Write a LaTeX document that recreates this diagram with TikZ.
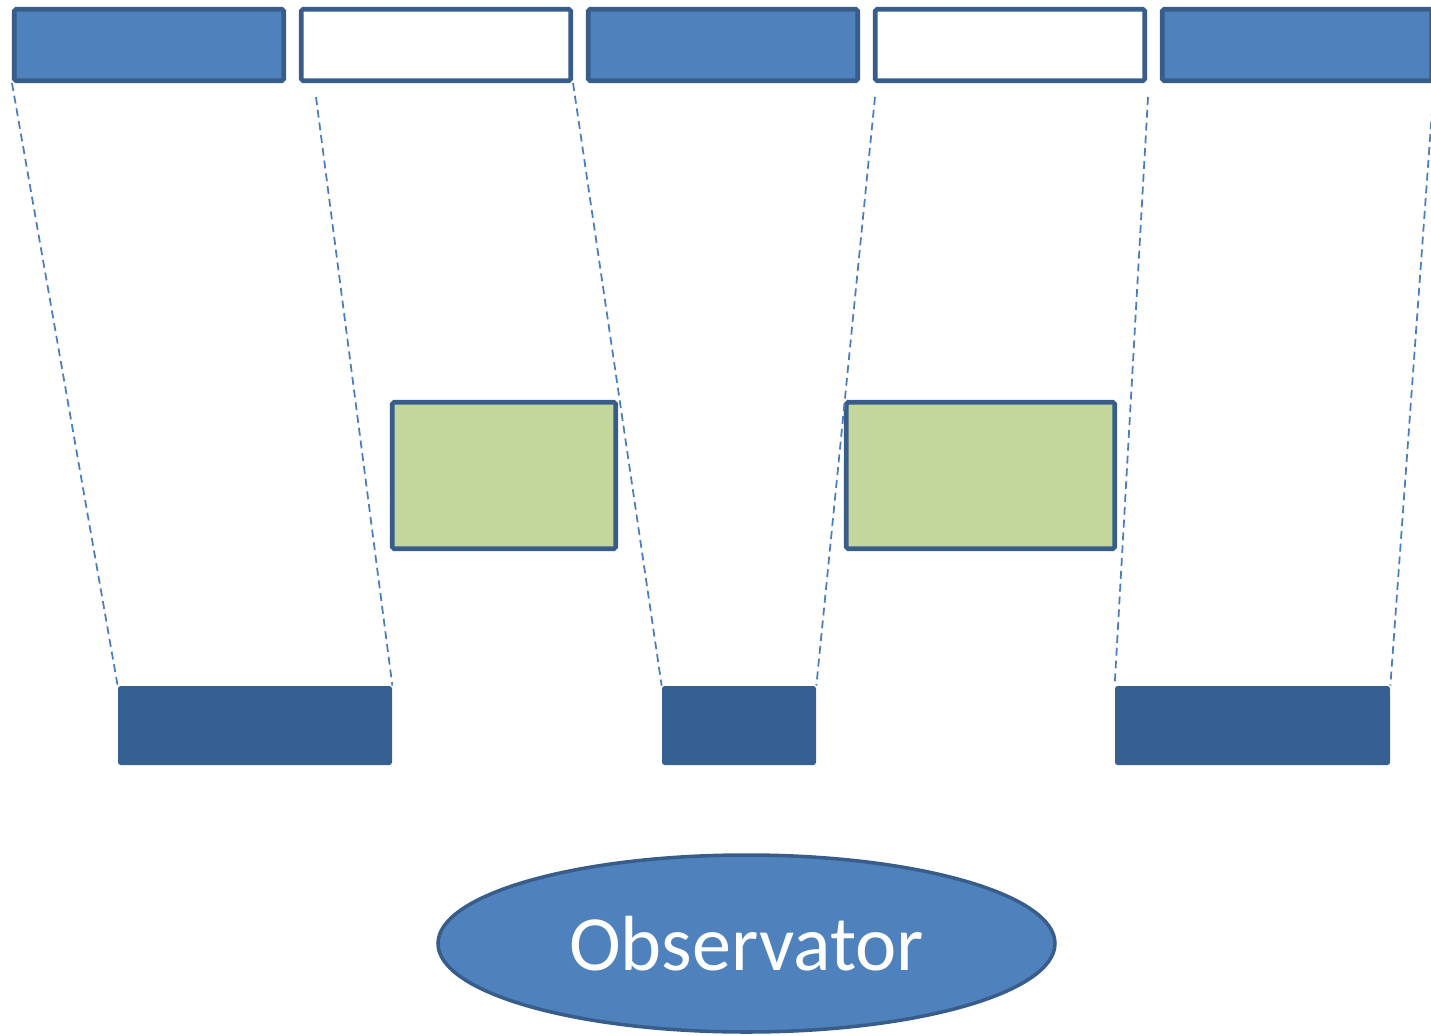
\documentclass[tikz,border=0pt]{standalone}
\usepackage{fontspec}
\newfontfamily\labelfont{Carlito}
\usetikzlibrary{positioning,shapes.geometric}
\definecolor{midblue}{HTML}{4F81BD}
\definecolor{edgeblue}{HTML}{385D8A}
\definecolor{darkblue}{HTML}{376092}
\definecolor{leafgreen}{HTML}{C3D69B}
\definecolor{rayblue}{HTML}{4A7EBB}

\begin{document}
\begin{tikzpicture}[%
  node distance=5.74cm,
  slab/.style={rectangle, draw=edgeblue, line width=2.6pt, rounded corners=1pt,
    minimum width=5.39cm, minimum height=1.43cm, inner sep=0pt},
  screen/.style={rectangle, draw=edgeblue, fill=leafgreen, line width=2.6pt,
    rounded corners=1pt, minimum height=2.93cm, inner sep=0pt},
  shadow/.style={rectangle, fill=darkblue, rounded corners=1.5pt,
    minimum height=1.58cm, inner sep=0pt},
  ray/.style={draw=rayblue, line width=1pt, dash pattern=on 4.5pt off 2.8pt},]
  \useasboundingbox (0,0) rectangle (28.62,-20.72);
  % top row
  \node[slab, fill=midblue] (top1) at (2.98,-0.9) {};
  \node[slab, fill=white, right of=top1] (top2) {};
  \node[slab, fill=midblue, right of=top2] (top3) {};
  \node[slab, fill=white, right of=top3] (top4) {};
  \node[slab, fill=midblue, right of=top4] (top5) {};
  % green boxes
  \node[screen, minimum width=4.47cm] (scr1) at (10.08,-9.51) {};
  \node[screen, minimum width=5.37cm] (scr2) at (19.61,-9.51) {};
  % dark boxes
  \node[shadow, minimum width=5.48cm] (dark1) at (5.1,-14.51) {};
  \node[shadow, minimum width=3.08cm] (dark2) at (14.78,-14.51) {};
  \node[shadow, minimum width=5.5cm] (dark3) at (25.05,-14.51) {};
  % observer
  \node[ellipse, draw=edgeblue, fill=midblue, line width=2pt,
    minimum width=12.34cm, minimum height=3.54cm, inner sep=0pt,
    text=white, font=\labelfont\fontsize{44.5}{50}\selectfont] (obs) at (14.93,-18.87) {Observator};
  % rays
  \coordinate (s2) at (6.32,-1.94);
  \coordinate (s4) at (17.5,-1.94);
  \coordinate (s5) at (22.96,-1.94);
  \draw[ray] (top1.south west) -- (dark1.north west);
  \draw[ray] (s2) -- (dark1.north east);
  \draw[ray] (top2.south east) -- (dark2.north west);
  \draw[ray] (s4) -- (dark2.north east);
  \draw[ray] (s5) -- (dark3.north west);
  \draw[ray] (top5.south east) -- (dark3.north east);
\end{tikzpicture}
\end{document}
